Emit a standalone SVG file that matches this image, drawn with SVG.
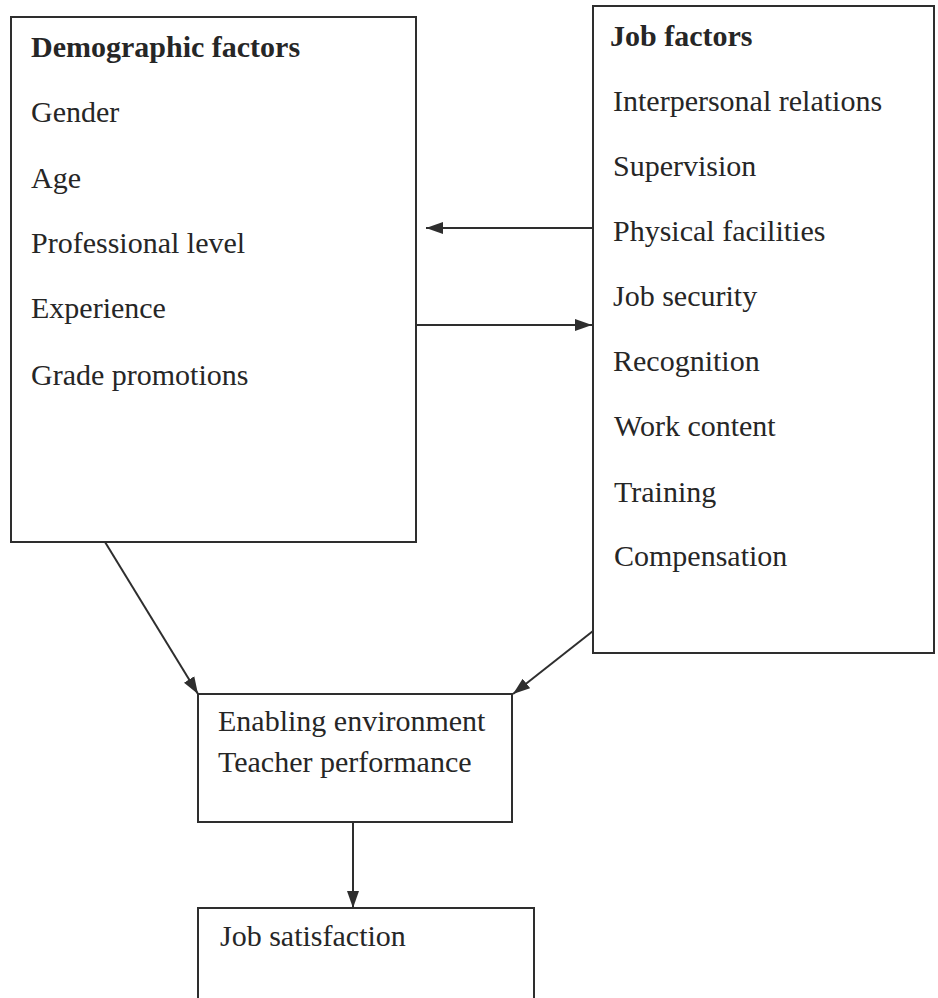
<svg xmlns="http://www.w3.org/2000/svg" width="938" height="998" viewBox="0 0 938 998">
<style>
.box{fill:none;stroke:#2e2e2e;stroke-width:2}
.t{font-family:"Liberation Serif","Times New Roman",serif;font-size:30px;fill:#262626}
.b{font-weight:bold}
.c{stroke:#2e2e2e;stroke-width:2;fill:none}
</style>
<defs>
<marker id="ah" markerUnits="userSpaceOnUse" markerWidth="18" markerHeight="14" viewBox="0 0 18 14" refX="17" refY="7" orient="auto">
<path d="M0,1 L17,7 L0,13 Z" fill="#2e2e2e"/>
</marker>
</defs>
<rect width="938" height="998" fill="#ffffff"/>
<g id="demographic">
<rect class="box" x="11" y="17" width="405" height="525"/>
<text class="t b" x="31" y="57">Demographic factors</text>
<text class="t" x="31" y="122">Gender</text>
<text class="t" x="31" y="188">Age</text>
<text class="t" x="31" y="253">Professional level</text>
<text class="t" x="31" y="318">Experience</text>
<text class="t" x="31" y="385">Grade promotions</text>
</g>
<g id="job-factors">
<rect class="box" x="593" y="6" width="341" height="647"/>
<text class="t b" x="610" y="46">Job factors</text>
<text class="t" x="613" y="111">Interpersonal relations</text>
<text class="t" x="613" y="176">Supervision</text>
<text class="t" x="613" y="241">Physical facilities</text>
<text class="t" x="613" y="306">Job security</text>
<text class="t" x="613" y="371">Recognition</text>
<text class="t" x="614" y="436">Work content</text>
<text class="t" x="614" y="502">Training</text>
<text class="t" x="614" y="566">Compensation</text>
</g>
<g id="enabling">
<rect class="box" x="198" y="694" width="314" height="128"/>
<text class="t" x="218" y="731">Enabling environment</text>
<text class="t" x="218" y="772">Teacher performance</text>
</g>
<g id="satisfaction">
<rect class="box" x="198" y="908" width="336" height="100"/>
<text class="t" x="220" y="946">Job satisfaction</text>
</g>
<g id="connectors">
<line class="c" x1="593" y1="228" x2="426" y2="228" marker-end="url(#ah)"/>
<line class="c" x1="416" y1="325" x2="592" y2="325" marker-end="url(#ah)"/>
<line class="c" x1="105" y1="542" x2="198" y2="694" marker-end="url(#ah)"/>
<line class="c" x1="593" y1="631" x2="513" y2="694" marker-end="url(#ah)"/>
<line class="c" x1="353" y1="822" x2="353" y2="908" marker-end="url(#ah)"/>
</g>
</svg>
